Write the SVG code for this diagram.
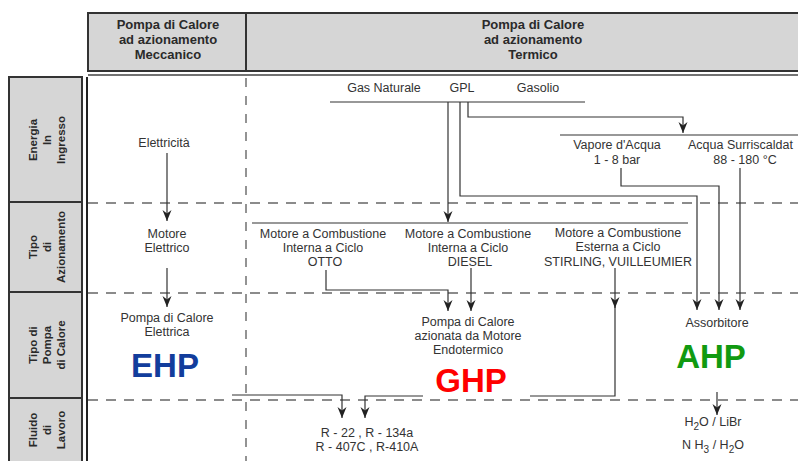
<svg xmlns="http://www.w3.org/2000/svg" width="798" height="461" viewBox="0 0 798 461">
<defs>
<style>
.t{font-family:"Liberation Sans",Arial,sans-serif;font-size:12.5px;fill:#333;text-anchor:middle}
.hb{font-family:"Liberation Sans",Arial,sans-serif;font-size:13px;font-weight:bold;fill:#2a2a2a;text-anchor:middle}
.lb{font-family:"Liberation Sans",Arial,sans-serif;font-size:11.5px;font-weight:bold;fill:#2a2a2a;text-anchor:middle}
.big{font-family:"Liberation Sans",Arial,sans-serif;font-size:33px;font-weight:bold;text-anchor:middle}
.c{fill:none;stroke:#333;stroke-width:1.2}
.d{fill:none;stroke:#666;stroke-width:1.4;stroke-dasharray:10 8}
.box{fill:#d6d6d6;stroke:#333;stroke-width:2}
</style>
<marker id="ah" viewBox="0 0 11 10" refX="11" refY="5" markerWidth="11" markerHeight="10" orient="auto" markerUnits="userSpaceOnUse">
<path d="M0,0.5 L11,5 L0,9.5 L3.5,5 z" fill="#222"/>
</marker>
</defs>
<rect width="798" height="461" fill="#fff"/>

<g id="header">
<rect class="box" x="88" y="13" width="720" height="58"/>
<line x1="246" y1="13" x2="246" y2="71" stroke="#333" stroke-width="2"/>
<line x1="88" y1="75" x2="798" y2="75" stroke="#444" stroke-width="1.5"/>
<text class="hb" x="168" y="29">Pompa di Calore</text>
<text class="hb" x="168" y="44">ad azionamento</text>
<text class="hb" x="168" y="59">Meccanico</text>
<text class="hb" x="533" y="29">Pompa di Calore</text>
<text class="hb" x="533" y="44">ad azionamento</text>
<text class="hb" x="533" y="59">Termico</text>
</g>

<g id="row-labels">
<rect class="box" x="9" y="77" width="73" height="392"/>
<line x1="9" y1="202" x2="82" y2="202" stroke="#333" stroke-width="2"/>
<line x1="9" y1="292" x2="82" y2="292" stroke="#333" stroke-width="2"/>
<line x1="9" y1="398" x2="82" y2="398" stroke="#333" stroke-width="2"/>
<text class="lb" transform="translate(37,140) rotate(-90)">Energia</text>
<text class="lb" transform="translate(51,140) rotate(-90)">In</text>
<text class="lb" transform="translate(65,140) rotate(-90)">Ingresso</text>
<text class="lb" transform="translate(37,247) rotate(-90)">Tipo</text>
<text class="lb" transform="translate(51,247) rotate(-90)">di</text>
<text class="lb" transform="translate(65,247) rotate(-90)">Azionamento</text>
<text class="lb" transform="translate(37,345) rotate(-90)">Tipo di</text>
<text class="lb" transform="translate(51,345) rotate(-90)">Pompa</text>
<text class="lb" transform="translate(65,345) rotate(-90)">di Calore</text>
<text class="lb" transform="translate(37,430) rotate(-90)">Fluido</text>
<text class="lb" transform="translate(51,430) rotate(-90)">di</text>
<text class="lb" transform="translate(65,430) rotate(-90)">Lavoro</text>
</g>

<g id="grid">
<line x1="87" y1="77" x2="87" y2="461" stroke="#222" stroke-width="2"/>
<line class="d" x1="246" y1="78" x2="246" y2="461" style="stroke-dasharray:9 9"/>
<line class="d" x1="88" y1="203" x2="798" y2="203"/>
<line class="d" x1="88" y1="293" x2="798" y2="293"/>
<line class="d" x1="88" y1="400" x2="798" y2="400"/>
</g>

<g id="connectors">
<path class="c" d="M167,153 V221" marker-end="url(#ah)"/>
<path class="c" d="M167,268 V307" marker-end="url(#ah)"/>
<path class="c" d="M330,102 H585"/>
<path class="c" d="M448,102 V222" marker-end="url(#ah)"/>
<path class="c" d="M460,102 V196 H697 V310" marker-end="url(#ah)"/>
<path class="c" d="M468,102 V117 H683 V133" marker-end="url(#ah)"/>
<path class="c" d="M560,135 H798"/>
<path class="c" d="M252,223 H688"/>
<path class="c" d="M326,270 V290 H448 V311" marker-end="url(#ah)"/>
<path class="c" d="M471,268 V311" marker-end="url(#ah)"/>
<path class="c" d="M615,268 V308" marker-end="url(#ah)"/>
<path class="c" d="M615,306 V396 H530"/>
<path class="c" d="M423,396 H365 V418" marker-end="url(#ah)"/>
<path class="c" d="M232,395 H342 V418" marker-end="url(#ah)"/>
<path class="c" d="M621,168 V186 H719 V310" marker-end="url(#ah)"/>
<path class="c" d="M740,168 V310" marker-end="url(#ah)"/>
<path class="c" d="M717,392 V415" marker-end="url(#ah)"/>
</g>

<g id="n-elettricita"><text class="t" x="164" y="147">Elettricità</text></g>
<g id="n-motore-elettrico"><text class="t" x="167" y="238">Motore</text><text class="t" x="167" y="252">Elettrico</text></g>
<g id="n-ehp"><text class="t" x="167" y="322">Pompa di Calore</text><text class="t" x="167" y="336">Elettrica</text>
<text class="big" x="165" y="377" fill="#123d9c">EHP</text></g>

<g id="n-combustibili">
<text class="t" x="384" y="92">Gas Naturale</text>
<text class="t" x="462" y="92">GPL</text>
<text class="t" x="538" y="92">Gasolio</text>
</g>
<g id="n-vapore"><text class="t" x="617" y="149">Vapore d'Acqua</text><text class="t" x="617" y="164">1 - 8 bar</text></g>
<g id="n-acqua"><text class="t" x="688" y="149" style="text-anchor:start">Acqua Surriscaldat</text><text class="t" x="745" y="164">88 - 180 °C</text></g>

<g id="n-otto"><text class="t" x="323" y="238">Motore a Combustione</text><text class="t" x="323" y="252">Interna a Ciclo</text><text class="t" x="325" y="266">OTTO</text></g>
<g id="n-diesel"><text class="t" x="468" y="238">Motore a Combustione</text><text class="t" x="468" y="252">Interna a Ciclo</text><text class="t" x="470" y="266">DIESEL</text></g>
<g id="n-stirling"><text class="t" x="618" y="237">Motore a Combustione</text><text class="t" x="618" y="251">Esterna a Ciclo</text><text class="t" x="618" y="266">STIRLING, VUILLEUMIER</text></g>

<g id="n-ghp"><text class="t" x="468" y="326">Pompa di Calore</text><text class="t" x="468" y="340">azionata da Motore</text><text class="t" x="468" y="354">Endotermico</text>
<text class="big" x="471" y="392" fill="#ff0000">GHP</text></g>

<g id="n-ahp"><text class="t" x="717" y="327">Assorbitore</text>
<text class="big" x="711" y="368" fill="#119a11">AHP</text></g>

<g id="n-fluidi-r"><text class="t" x="367" y="437">R - 22 , R - 134a</text><text class="t" x="367" y="451">R - 407C , R-410A</text></g>
<g id="n-fluidi-a">
<text class="t" x="713" y="426">H<tspan dy="4" font-size="10">2</tspan><tspan dy="-4">O / LiBr</tspan></text>
<text class="t" x="713" y="449">N H<tspan dy="4" font-size="10">3</tspan><tspan dy="-4"> / H</tspan><tspan dy="4" font-size="10">2</tspan><tspan dy="-4">O</tspan></text>
</g>
</svg>
